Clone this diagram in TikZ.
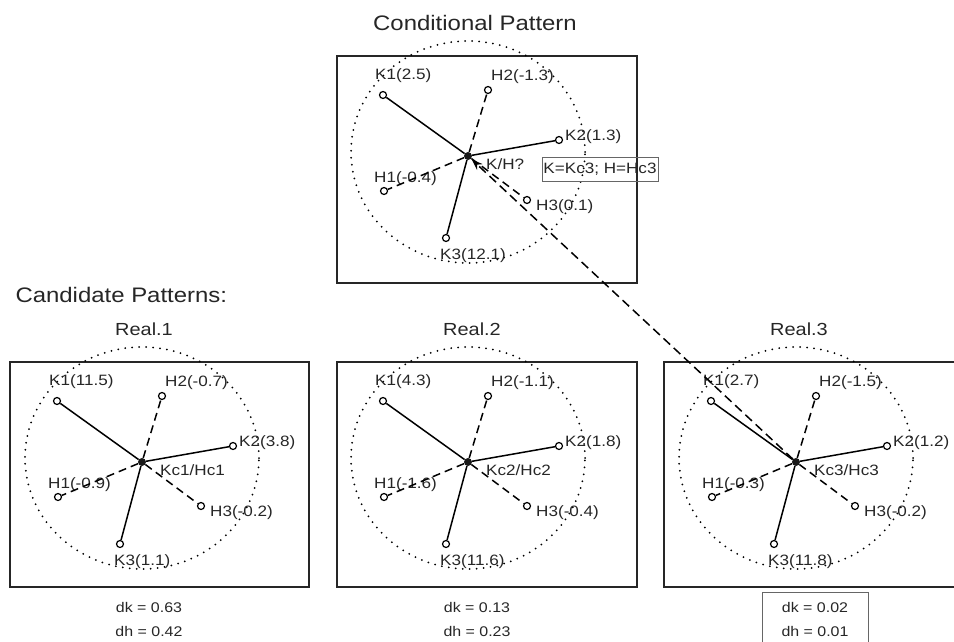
\documentclass[tikz,border=0pt]{standalone}
\usepackage{fontspec}
\setmainfont[FakeStretch=1.14]{Liberation Sans}
\usetikzlibrary{arrows.meta}

\begin{document}
\begin{tikzpicture}[
  x=1pt, y=-1pt,
  >=Stealth,
  every node/.style={text=black!85},
  endpt/.style={draw, circle, fill=white, line width=1.2pt, minimum size=7pt, inner sep=0pt},
  ctr/.style={circle, fill=black!90, minimum size=8pt, inner sep=0pt},
  lbl/.style={anchor=west, inner sep=0pt, font=\fontsize{15}{18}\selectfont},
  title/.style={font=\fontsize{21}{25}\selectfont},
  subtitle/.style={font=\fontsize{17.5}{21}\selectfont},
  score/.style={align=center, font=\fontsize{14}{24}\selectfont},
  panel/.style={draw=black!85, line width=1.8pt},
  kline/.style={line width=1.5pt},
  hline/.style={line width=1.5pt, dash pattern=on 8pt off 5pt},
  ring/.style={line width=2pt, dash pattern=on 0pt off 7pt, line cap=round},
  arr/.style={-{Stealth[length=11pt,width=8pt]}, line width=1.5pt, dash pattern=on 9pt off 5pt},
  tag/.style={draw=black!60, line width=0.8pt, font=\fontsize{15}{18}\selectfont,
              minimum width=116pt, minimum height=24pt, inner sep=0pt},
]
\useasboundingbox (0,0) rectangle (954,642);
\clip (0,0) rectangle (954,642);

% === Conditional pattern ===
\node[title] (ctitle) at (475,23) {Conditional Pattern};
\begin{scope}[shift={(468,156)}]
  \draw[panel] (-131,-100) rectangle (169,127);
  \draw[ring] (0,-4) ellipse [x radius=117pt, y radius=111pt];
  \node[ctr] (c0) at (0,0) {};
  \node[endpt] (ck1) at (-85,-61) {};
  \node[endpt] (ch2) at (20,-66) {};
  \node[endpt] (ck2) at (91,-16) {};
  \node[endpt] (ch1) at (-84,35) {};
  \node[endpt] (ch3) at (59,44) {};
  \node[endpt] (ck3) at (-22,82) {};
  \node[lbl] (cl1) at (-93,-80) {K1(2.5)};
  \node[lbl] (cl2) at (23,-79) {H2(-1.3)};
  \node[lbl] (cl3) at (97,-19) {K2(1.3)};
  \node[lbl] (cl4) at (18,8) {K/H?};
  \node[lbl] (cl5) at (-94,23) {H1(-0.4)};
  \node[lbl] (cl6) at (68,51) {H3(0.1)};
  \node[lbl] (cl7) at (-28,100) {K3(12.1)};
\end{scope}
\draw[kline] (c0) -- (ck1);
\draw[kline] (c0) -- (ck2);
\draw[kline] (c0) -- (ck3);
\draw[hline] (c0) -- (ch1);
\draw[hline] (c0) -- (ch2);
\draw[hline] (c0) -- (ch3);
\node[tag] (given) at (600,169) {K=Kc3; H=Hc3};

% === Candidate patterns ===
\node[title, anchor=west] (cand) at (12,295) {Candidate Patterns:};

% Real.1
\node[subtitle] (atitle) at (144,329) {Real.1};
\begin{scope}[shift={(142,462)}]
  \draw[panel] (-132,-100) rectangle (167,125);
  \draw[ring] (0,-4) ellipse [x radius=117pt, y radius=111pt];
  \node[ctr] (a0) at (0,0) {};
  \node[endpt] (ak1) at (-85,-61) {};
  \node[endpt] (ah2) at (20,-66) {};
  \node[endpt] (ak2) at (91,-16) {};
  \node[endpt] (ah1) at (-84,35) {};
  \node[endpt] (ah3) at (59,44) {};
  \node[endpt] (ak3) at (-22,82) {};
  \node[lbl] (al1) at (-93,-80) {K1(11.5)};
  \node[lbl] (al2) at (23,-79) {H2(-0.7)};
  \node[lbl] (al3) at (97,-19) {K2(3.8)};
  \node[lbl] (al4) at (18,8) {Kc1/Hc1};
  \node[lbl] (al5) at (-94,23) {H1(-0.9)};
  \node[lbl] (al6) at (68,51) {H3(-0.2)};
  \node[lbl] (al7) at (-28,100) {K3(1.1)};
\end{scope}
\draw[kline] (a0) -- (ak1);
\draw[kline] (a0) -- (ak2);
\draw[kline] (a0) -- (ak3);
\draw[hline] (a0) -- (ah1);
\draw[hline] (a0) -- (ah2);
\draw[hline] (a0) -- (ah3);
\node[score] (ascore) at (149,619) {dk = 0.63\\dh = 0.42};

% Real.2
\node[subtitle] (btitle) at (472,329) {Real.2};
\begin{scope}[shift={(468,462)}]
  \draw[panel] (-131,-100) rectangle (169,125);
  \draw[ring] (0,-4) ellipse [x radius=117pt, y radius=111pt];
  \node[ctr] (b0) at (0,0) {};
  \node[endpt] (bk1) at (-85,-61) {};
  \node[endpt] (bh2) at (20,-66) {};
  \node[endpt] (bk2) at (91,-16) {};
  \node[endpt] (bh1) at (-84,35) {};
  \node[endpt] (bh3) at (59,44) {};
  \node[endpt] (bk3) at (-22,82) {};
  \node[lbl] (bl1) at (-93,-80) {K1(4.3)};
  \node[lbl] (bl2) at (23,-79) {H2(-1.1)};
  \node[lbl] (bl3) at (97,-19) {K2(1.8)};
  \node[lbl] (bl4) at (18,8) {Kc2/Hc2};
  \node[lbl] (bl5) at (-94,23) {H1(-1.6)};
  \node[lbl] (bl6) at (68,51) {H3(-0.4)};
  \node[lbl] (bl7) at (-28,100) {K3(11.6)};
\end{scope}
\draw[kline] (b0) -- (bk1);
\draw[kline] (b0) -- (bk2);
\draw[kline] (b0) -- (bk3);
\draw[hline] (b0) -- (bh1);
\draw[hline] (b0) -- (bh2);
\draw[hline] (b0) -- (bh3);
\node[score] (bscore) at (477,619) {dk = 0.13\\dh = 0.23};

% Real.3
\node[subtitle] (dtitle) at (799,329) {Real.3};
\begin{scope}[shift={(796,462)}]
  \draw[panel] (-132,-100) rectangle (168,125);
  \draw[ring] (0,-4) ellipse [x radius=117pt, y radius=111pt];
  \node[ctr] (d0) at (0,0) {};
  \node[endpt] (dk1) at (-85,-61) {};
  \node[endpt] (dh2) at (20,-66) {};
  \node[endpt] (dk2) at (91,-16) {};
  \node[endpt] (dh1) at (-84,35) {};
  \node[endpt] (dh3) at (59,44) {};
  \node[endpt] (dk3) at (-22,82) {};
  \node[lbl] (dl1) at (-93,-80) {K1(2.7)};
  \node[lbl] (dl2) at (23,-79) {H2(-1.5)};
  \node[lbl] (dl3) at (97,-19) {K2(1.2)};
  \node[lbl] (dl4) at (18,8) {Kc3/Hc3};
  \node[lbl] (dl5) at (-94,23) {H1(-0.3)};
  \node[lbl] (dl6) at (68,51) {H3(-0.2)};
  \node[lbl] (dl7) at (-28,100) {K3(11.8)};
\end{scope}
\draw[kline] (d0) -- (dk1);
\draw[kline] (d0) -- (dk2);
\draw[kline] (d0) -- (dk3);
\draw[hline] (d0) -- (dh1);
\draw[hline] (d0) -- (dh2);
\draw[hline] (d0) -- (dh3);
\node[score, draw=black!60, line width=0.8pt, minimum width=106pt, minimum height=54pt]
  (dscore) at (815,619) {dk = 0.02\\dh = 0.01};

% Best match back to the conditional pattern
\draw[arr, shorten >=1pt] (d0) -- (c0);
\end{tikzpicture}
\end{document}
